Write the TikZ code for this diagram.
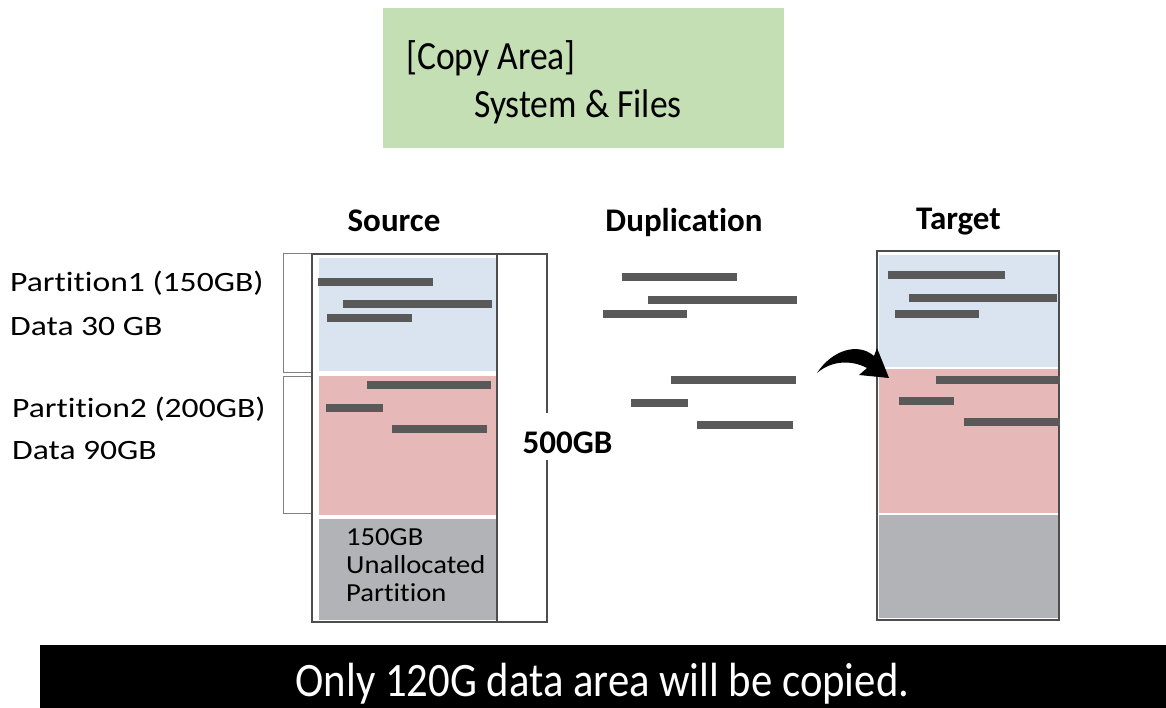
\documentclass[tikz,border=0pt]{standalone}
\usepackage{fontspec}
\defaultfontfeatures{Ligatures={NoCommon,NoContextual},Contextuals=NoAlternate}
\setmainfont{Carlito}
\newfontfamily\widefont[FakeStretch=1.2]{Carlito}
\newfontfamily\freefont[FakeStretch=1.1]{Carlito}
\newfontfamily\narrowfont[FakeStretch=0.89]{Carlito}
\usetikzlibrary{positioning}
\definecolor{copygreen}{HTML}{C5DFB4}
\definecolor{partblue}{HTML}{DAE3F0}
\definecolor{partred}{HTML}{E6B8B7}
\definecolor{partgray}{HTML}{B2B3B7}
\definecolor{bargray}{HTML}{595959}
\definecolor{framegray}{HTML}{4D4D4D}
\definecolor{bracketgray}{HTML}{808080}

\begin{document}
\begin{tikzpicture}[x=1pt,y=-1pt,line join=miter,
	frame/.style={draw=framegray,line width=1.2pt},
	bracket/.style={draw=bracketgray,line width=1pt},
	bar/.style={draw=bargray,line width=8pt},
	sidelabel/.style={anchor=base west,inner sep=0pt,font=\widefont\fontsize{28}{30}\selectfont},
	freelabel/.style={anchor=base west,inner sep=0pt,font=\freefont\fontsize{26}{28}\selectfont},
	heading/.style={anchor=base,inner sep=0pt,font=\bfseries\fontsize{33}{36}\selectfont},
	copytext/.style={anchor=base west,inner sep=0pt,font=\narrowfont\fontsize{40}{44}\selectfont}]
	\useasboundingbox (0,0) rectangle (1166,708);

	\node[fill=copygreen,minimum width=401pt,minimum height=140pt,inner sep=0pt] (copybox) at (583.5,78) {};
	\node[copytext] (copyarea) at (406,70) {[Copy Area]};
	\node[copytext] (copyfiles) at (474,118) {System \& Files};

	\node[heading] (source) at (394,232) {Source};
	\node[heading] (dup) at (684,232) {Duplication};
	\node[heading] (target) at (958.5,230) {Target};

	\node[sidelabel] (p1) at (10,292) {Partition1 (150GB)};
	\node[sidelabel] (d1) at (10,335) {Data 30 GB};
	\node[sidelabel] (p2) at (12,417) {Partition2 (200GB)};
	\node[sidelabel] (d2) at (12,459) {Data 90GB};

	% source disk
	\fill[partblue] (319,258) rectangle (496,371);
	\fill[partred] (319,376) rectangle (496,515);
	\fill[partgray] (319,519) rectangle (496,620);
	\draw[frame] (312,254) rectangle (497,622);
	\node[freelabel] (u1) at (346,545) {150GB};
	\node[freelabel] (u2) at (346,573) {Unallocated};
	\node[freelabel] (u3) at (346,601) {Partition};

	\draw[bracket] (311,254) -- (283,254) -- (283,372) -- (311,372);
	\draw[bracket] (311,376) -- (283,376) -- (283,513) -- (311,513);
	\draw[frame] (497,254) -- (547,254) -- (547,413);
	\draw[frame] (547,460) -- (547,622) -- (497,622);
	\node[heading] (size) at (567.5,453) {500GB};

	% target disk
	\fill[partblue] (879,255) rectangle (1058,367);
	\fill[partred] (879,369) rectangle (1058,513);
	\fill[partgray] (879,515) rectangle (1058,618);
	\draw[frame] (877,251) rectangle (1059,620);

	\foreach \xa/\xb/\yy in {318/433/282,343/492/304,327/412/318,367/491/385,326/383/408,392/487/429,
		622/737/277,648/797/300,603/687/314,671/796/380,631/688/403,697/793/425,
		888/1005/275,909/1057/298,895/979/314,936/1060/380,899/954/401,964/1060/422}
		\draw[bar] (\xa,\yy) -- (\xb,\yy);

	\coordinate (arrowtail) at (817,373);
	\coordinate (arrowtip) at (889,378);
	\fill[black] (arrowtail) .. controls (832,350) and (858,342) .. (874,356) -- (877,348)
		-- (arrowtip) -- (859,375) -- (867,368) .. controls (852,360) and (832,360) .. (arrowtail) -- cycle;

	\node[fill=black,minimum width=1126pt,minimum height=63pt,inner sep=0pt] (notebar) at (603,676.5) {};
	\node[anchor=base,inner sep=0pt,text=white,font=\narrowfont\fontsize{48}{52}\selectfont] (note) at (602.5,696) {Only 120G data area will be copied.};
\end{tikzpicture}
\end{document}
